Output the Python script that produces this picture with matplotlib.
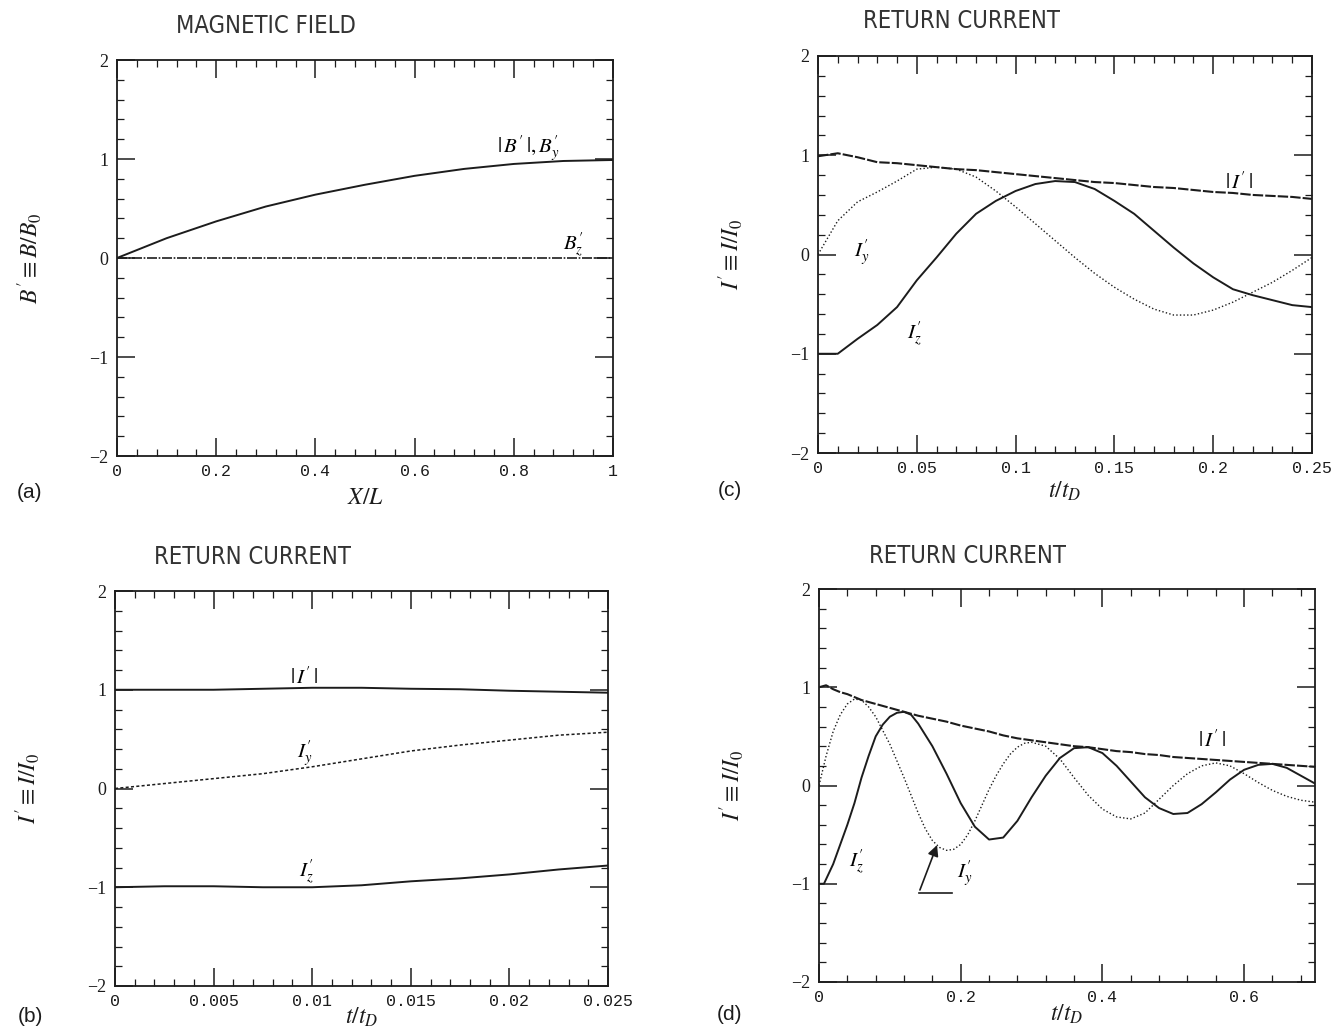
import matplotlib
matplotlib.use("Agg")
import matplotlib.pyplot as plt
from matplotlib.ticker import MultipleLocator, FixedLocator

plt.rcParams['mathtext.fontset'] = 'stix'
INK = '#1c1c1c'

# (a) magnetic field vs X/L
xa = [0, 0.1, 0.2, 0.3, 0.4, 0.5, 0.6, 0.7, 0.8, 0.9, 1.0]
ba_mag = [0, 0.2, 0.37, 0.52, 0.64, 0.74, 0.83, 0.9, 0.95, 0.98, 0.99]
ba_z = [0, 0, 0, 0, 0, 0, 0, 0, 0, 0, 0]

# (b) return current, early time
tb = [0, 0.0025, 0.005, 0.0075, 0.01, 0.0125, 0.015, 0.0175, 0.02, 0.0225, 0.025]
ib_mag = [1.0, 1.0, 1.0, 1.01, 1.02, 1.02, 1.01, 1.005, 0.99, 0.98, 0.97]
ib_y = [0, 0.05, 0.10, 0.15, 0.22, 0.30, 0.38, 0.44, 0.49, 0.54, 0.57]
ib_z = [-1.0, -0.99, -0.99, -1.0, -1.0, -0.98, -0.94, -0.91, -0.87, -0.82, -0.78]

# (c) return current, t/tD up to 0.25
tc = [0, 0.01, 0.02, 0.03, 0.04, 0.05, 0.06, 0.07, 0.08, 0.09, 0.10, 0.11, 0.12,
      0.13, 0.14, 0.15, 0.16, 0.17, 0.18, 0.19, 0.20, 0.21, 0.22, 0.23, 0.24, 0.25]
ic_mag = [0.99, 1.02, 0.98, 0.93, 0.92, 0.90, 0.88, 0.86, 0.85, 0.83, 0.81, 0.79, 0.77,
          0.75, 0.73, 0.72, 0.70, 0.68, 0.67, 0.65, 0.63, 0.62, 0.60, 0.59, 0.58, 0.56]
ic_y = [0, 0.34, 0.53, 0.63, 0.74, 0.86, 0.88, 0.86, 0.78, 0.64, 0.48, 0.31, 0.14,
        -0.03, -0.19, -0.33, -0.45, -0.55, -0.61, -0.61, -0.56, -0.48, -0.38, -0.28, -0.16, -0.03]
ic_z = [-1.0, -1.0, -0.85, -0.71, -0.53, -0.26, -0.03, 0.21, 0.41, 0.54, 0.64, 0.71, 0.74,
        0.73, 0.66, 0.54, 0.41, 0.24, 0.07, -0.09, -0.23, -0.35, -0.41, -0.46, -0.51, -0.53]

# (d) return current, t/tD up to 0.7
td_mag = [0, 0.01, 0.02, 0.03, 0.04, 0.05, 0.06, 0.08, 0.10, 0.12, 0.14, 0.16, 0.18,
          0.20, 0.22, 0.24, 0.26, 0.28, 0.30, 0.32, 0.34, 0.36, 0.38, 0.40, 0.42, 0.44,
          0.46, 0.48, 0.50, 0.52, 0.54, 0.56, 0.58, 0.60, 0.62, 0.64, 0.66, 0.68, 0.70]
id_mag = [1.0, 1.02, 0.98, 0.95, 0.93, 0.90, 0.87, 0.83, 0.79, 0.75, 0.71, 0.68, 0.65,
          0.61, 0.58, 0.55, 0.51, 0.48, 0.46, 0.44, 0.42, 0.40, 0.39, 0.37, 0.35, 0.34,
          0.32, 0.31, 0.29, 0.28, 0.27, 0.26, 0.25, 0.24, 0.23, 0.22, 0.21, 0.20, 0.19]
td_y = [0, 0.01, 0.02, 0.03, 0.04, 0.05, 0.06, 0.07, 0.08, 0.09, 0.10, 0.11, 0.12, 0.13,
        0.14, 0.15, 0.16, 0.17, 0.18, 0.19, 0.20, 0.21, 0.22, 0.23, 0.24, 0.25, 0.26, 0.27,
        0.28, 0.29, 0.30, 0.32, 0.34, 0.36, 0.38, 0.40, 0.42, 0.44, 0.46, 0.48, 0.50, 0.52,
        0.54, 0.56, 0.58, 0.60, 0.62, 0.64, 0.66, 0.68, 0.70]
id_y = [0, 0.3, 0.55, 0.72, 0.83, 0.88, 0.87, 0.8, 0.7, 0.56, 0.42, 0.25, 0.08, -0.1,
        -0.28, -0.44, -0.56, -0.63, -0.66, -0.65, -0.6, -0.5, -0.36, -0.2, -0.04, 0.1, 0.22, 0.32,
        0.39, 0.43, 0.44, 0.4, 0.27, 0.08, -0.1, -0.24, -0.32, -0.34, -0.28, -0.14, 0.0, 0.12,
        0.2, 0.23, 0.2, 0.12, 0.03, -0.05, -0.11, -0.15, -0.17]
td_z = [0, 0.007, 0.02, 0.03, 0.04, 0.05, 0.06, 0.07, 0.08, 0.09, 0.10, 0.11, 0.12, 0.13,
        0.14, 0.16, 0.18, 0.20, 0.22, 0.24, 0.26, 0.28, 0.30, 0.32, 0.34, 0.36, 0.38, 0.40,
        0.42, 0.44, 0.46, 0.48, 0.50, 0.52, 0.54, 0.56, 0.58, 0.60, 0.62, 0.64, 0.66, 0.68, 0.70]
id_z = [-1.0, -1.0, -0.8, -0.6, -0.4, -0.18, 0.08, 0.3, 0.5, 0.62, 0.7, 0.74, 0.75, 0.72,
        0.63, 0.4, 0.12, -0.18, -0.42, -0.55, -0.53, -0.36, -0.12, 0.1, 0.28, 0.38, 0.39, 0.33,
        0.2, 0.04, -0.12, -0.23, -0.29, -0.28, -0.19, -0.07, 0.06, 0.16, 0.21, 0.22, 0.18, 0.1, 0.02]

SOLID = dict(color=INK, lw=1.4, ls='-')
DOTTED = dict(color=INK, lw=1.0, ls=(0, (1, 1.6)))
DASHED = dict(color=INK, lw=1.5, ls=(0, (5, 1)))

fig = plt.figure(figsize=(13.36, 10.30), dpi=100)
W, H = 1336, 1030


def make_ax(x0, x1, y0, y1):
    return fig.add_axes([x0 / W, 1 - y1 / H, (x1 - x0) / W, (y1 - y0) / H])


def style(ax, xmax, xminor, xticks, xlabel, ylabel, xlab_y, title, tx, ty, tag, lx, ly):
    ax.set_xlim(0, xmax)
    ax.set_ylim(-2, 2)
    ax.xaxis.set_major_locator(FixedLocator(xticks))
    ax.xaxis.set_minor_locator(MultipleLocator(xminor))
    ax.yaxis.set_minor_locator(MultipleLocator(0.2))
    ax.tick_params(which='both', direction='in', top=True, right=True, color=INK)
    ax.tick_params(which='major', length=13, width=1.1, pad=6)
    ax.tick_params(which='minor', length=5, width=0.9)
    for s in ax.spines.values():
        s.set_linewidth(1.3)
        s.set_color(INK)
    ax.set_yticks([-2, -1, 0, 1, 2])
    ax.set_yticklabels(['\u22122', '\u22121', '0', '1', '2'],
                       family='Liberation Serif', fontsize=13, color=INK)
    ax.set_xticklabels([('%g' % v) for v in xticks], family='Liberation Mono',
                       fontsize=12, color=INK)
    ax.set_xlabel(xlabel, fontsize=17, color=INK, va='center')
    ax.xaxis.set_label_coords(0.5, xlab_y)
    ax.set_ylabel(ylabel, fontsize=17, color=INK, va='center')
    ax.yaxis.set_label_coords(-0.177, 0.5)
    fig.text(tx / W, 1 - ty / H, title, ha='center', va='center', fontsize=17,
             family='DejaVu Sans', fontweight='light', stretch='condensed', color='#333333')
    fig.text(lx / W, 1 - ly / H, tag, ha='center', va='center', fontsize=15,
             family='Liberation Sans', color=INK)


# (a)
ax = make_ax(117, 613, 60, 456)
ax.plot(xa, ba_mag, **SOLID)
ax.plot(xa, ba_z, color=INK, lw=1.2, ls=(0, (6, 1, 1, 1)))
ax.text(0.83, 1.1, r"$|\,B'\,|,B_y'$", fontsize=15, ha='center', va='center')
ax.text(0.92, 0.13, r"$B_z'$", fontsize=15, ha='center', va='center')
style(ax, 1, 0.04, [0, 0.2, 0.4, 0.6, 0.8, 1.0], r'$X/L$', r"$B'\equiv B/B_0$", -0.104,
      'MAGNETIC FIELD', 266, 26, '(a)', 30, 493)

# (c)
ax = make_ax(818, 1312, 56, 453)
ax.plot(tc, ic_mag, **DASHED)
ax.plot(tc, ic_y, **DOTTED)
ax.plot(tc, ic_z, **SOLID)
ax.text(0.213, 0.73, r"$|\,I'\,|$", fontsize=15, ha='center', va='center')
ax.text(0.022, 0.02, r"$I_y'$", fontsize=15, ha='center', va='center')
ax.text(0.049, -0.8, r"$I_z'$", fontsize=15, ha='center', va='center')
style(ax, 0.25, 0.01, [0, 0.05, 0.1, 0.15, 0.2, 0.25], r'$t/t_D$', r"$I'\equiv I/I_0$", -0.095,
      'RETURN CURRENT', 961, 21, '(c)', 730, 490)

# (b)
ax = make_ax(115, 608, 591, 986)
ax.plot(tb, ib_mag, **SOLID)
ax.plot(tb, ib_y, color=INK, lw=1.1, ls=(0, (2, 1.5)))
ax.plot(tb, ib_z, **SOLID)
ax.text(0.0096, 1.13, r"$|\,I'\,|$", fontsize=15, ha='center', va='center')
ax.text(0.0096, 0.35, r"$I_y'$", fontsize=15, ha='center', va='center')
ax.text(0.0097, -0.84, r"$I_z'$", fontsize=15, ha='center', va='center')
style(ax, 0.025, 0.001, [0, 0.005, 0.01, 0.015, 0.02, 0.025], r'$t/t_D$',
      r"$I'\equiv I/I_0$", -0.078, 'RETURN CURRENT', 252, 557, '(b)', 30, 1017)

# (d)
ax = make_ax(819, 1315, 589, 982)
ax.plot(td_mag, id_mag, **DASHED)
ax.plot(td_y, id_y, **DOTTED)
ax.plot(td_z, id_z, **SOLID)
ax.text(0.555, 0.46, r"$|\,I'\,|$", fontsize=15, ha='center', va='center')
ax.text(0.053, -0.77, r"$I_z'$", fontsize=15, ha='center', va='center')
ax.text(0.205, -0.9, r"$I_y'$", fontsize=15, ha='center', va='center')
leader_x = [0.187, 0.141]
leader_y = [-1.09, -1.09]
ax.plot(leader_x, leader_y, color=INK, lw=1.2)
ax.annotate('', xy=(0.168, -0.58), xytext=(leader_x[1], leader_y[1]),
            arrowprops=dict(arrowstyle='-|>', color=INK, lw=1.2, mutation_scale=16))
style(ax, 0.7, 0.04, [0, 0.2, 0.4, 0.6], r'$t/t_D$', r"$I'\equiv I/I_0$", -0.082,
      'RETURN CURRENT', 967, 556, '(d)', 730, 1015)

fig.savefig('out.png', dpi=100)
